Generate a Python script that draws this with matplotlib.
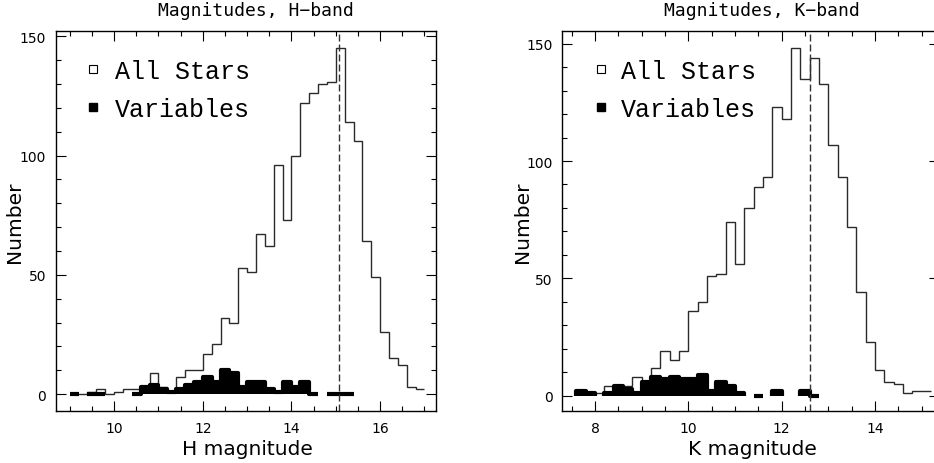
import numpy as np
import matplotlib
matplotlib.use("Agg")
import matplotlib.pyplot as plt
from matplotlib.ticker import MultipleLocator

nan = np.nan
BIN = 0.2  # bin width in mag

# --- H band: bins of 0.2 mag starting at 9.0 ---
h_start = 9.0
h_all = [0, 0, 1, 2, 0, 1, 2, 2, 3, 9,
         3, 1, 7, 10, 10, 17, 21, 32, 30, 53,
         51, 67, 62, 96, 73, 100, 122, 126, 130, 131,
         145, 114, 106, 64, 49, 26, 15, 12, 3, 2]
h_var = [0, nan, 0, 0, nan, nan, nan, 0, 3, 4,
         2, 1, 2, 4, 5, 7, 5, 10, 9, 3,
         5, 5, 2, 1, 5, 3, 5, 0, nan, 0,
         0, 0, nan, nan, nan, nan, nan, nan, nan, nan]
h_cut = 15.08

# --- K band: bins of 0.2 mag starting at 7.6 ---
k_start = 7.6
k_all = [2, 1, 1, 4, 4, 4, 8, 6, 12, 19,
         15, 19, 36, 40, 51, 52, 74, 56, 80, 89,
         93, 123, 118, 148, 135, 144, 133, 107, 93, 72,
         44, 23, 11, 6, 5, 1, 2, 2]
k_var = [2, 1, nan, 1, 4, 3, 1, 6, 8, 7,
         8, 7, 7, 9, 2, 6, 4, 1, nan, 0,
         nan, 2, nan, nan, 2, 0, nan, nan, nan, nan,
         nan, nan, nan, nan, nan, nan, nan, nan]
k_cut = 12.6

W, H = 934, 464
fig = plt.figure(figsize=(W / 100, H / 100), dpi=100)


def fx(px):
    return px / W


def fy(py):
    return 1 - py / H


panels = [
    dict(box=(56, 32, 436, 412), start=h_start, all=h_all, var=h_var, cut=h_cut,
         xlim=(8.69, 17.26), ylim=(-7.1, 152.2),
         title="Magnitudes, H\u2212band", xlabel="H magnitude",
         title_x=255.5, xlabel_x=247, ylabel_x=15, mark_x=93.3, text_x=115),
    dict(box=(562.3, 32, 939, 412.3), start=k_start, all=k_all, var=k_var, cut=k_cut,
         xlim=(7.30, 15.37), ylim=(-6.65, 155.4),
         title="Magnitudes, K\u2212band", xlabel="K magnitude",
         title_x=762.3, xlabel_x=752.3, ylabel_x=522, mark_x=600.7, text_x=620.7),
]

for p in panels:
    x0, y0, x1, y1 = p["box"]
    ax = fig.add_axes([fx(x0), fy(y1), (x1 - x0) / W, (y1 - y0) / H])
    edges = p["start"] + BIN * np.arange(len(p["all"]) + 1)

    ax.stairs(p["all"], edges, baseline=None, color="#2a2a2a", lw=1.0)
    ax.stairs(np.array(p["var"], dtype=float), edges, fill=True,
              facecolor="black", edgecolor="black", lw=3.0, joinstyle="round")
    ax.axvline(p["cut"], color="#333333", lw=1.0, ls=(0, (5, 2.2)))

    ax.set_xlim(*p["xlim"])
    ax.set_ylim(*p["ylim"])
    ax.xaxis.set_major_locator(MultipleLocator(2))
    ax.xaxis.set_minor_locator(MultipleLocator(0.5))
    ax.yaxis.set_major_locator(MultipleLocator(50))
    ax.yaxis.set_minor_locator(MultipleLocator(10))
    ax.tick_params(which="both", direction="in", top=True, right=True,
                   width=0.8, labelsize=10, pad=7)
    ax.tick_params(which="major", length=7.2)
    ax.tick_params(which="minor", length=3.6)
    for s in ax.spines.values():
        s.set_linewidth(1.0)

    fig.text(fx(p["title_x"]), fy(11), p["title"], ha="center", va="center",
             family="DejaVu Sans Mono", size=13)
    fig.text(fx(p["xlabel_x"]), fy(455), p["xlabel"], ha="center", va="baseline",
             size=14.5)
    fig.text(fx(p["ylabel_x"]), fy(222), "Number", rotation=90,
             ha="center", va="center", size=14.5)

    # legend
    ax.plot([fx(p["mark_x"])], [fy(70)], marker="s", ms=6, mfc="white",
            mec="black", mew=0.8, transform=fig.transFigure, clip_on=False)
    ax.plot([fx(p["mark_x"])], [fy(108.3)], marker="s", ms=6, mfc="black",
            mec="black", transform=fig.transFigure, clip_on=False)
    fig.text(fx(p["text_x"]), fy(79.3), "All Stars", family="Liberation Mono",
             size=18, va="baseline")
    fig.text(fx(p["text_x"]), fy(117.3), "Variables", family="Liberation Mono",
             size=18, va="baseline")

fig.savefig("out.png", dpi=100)
